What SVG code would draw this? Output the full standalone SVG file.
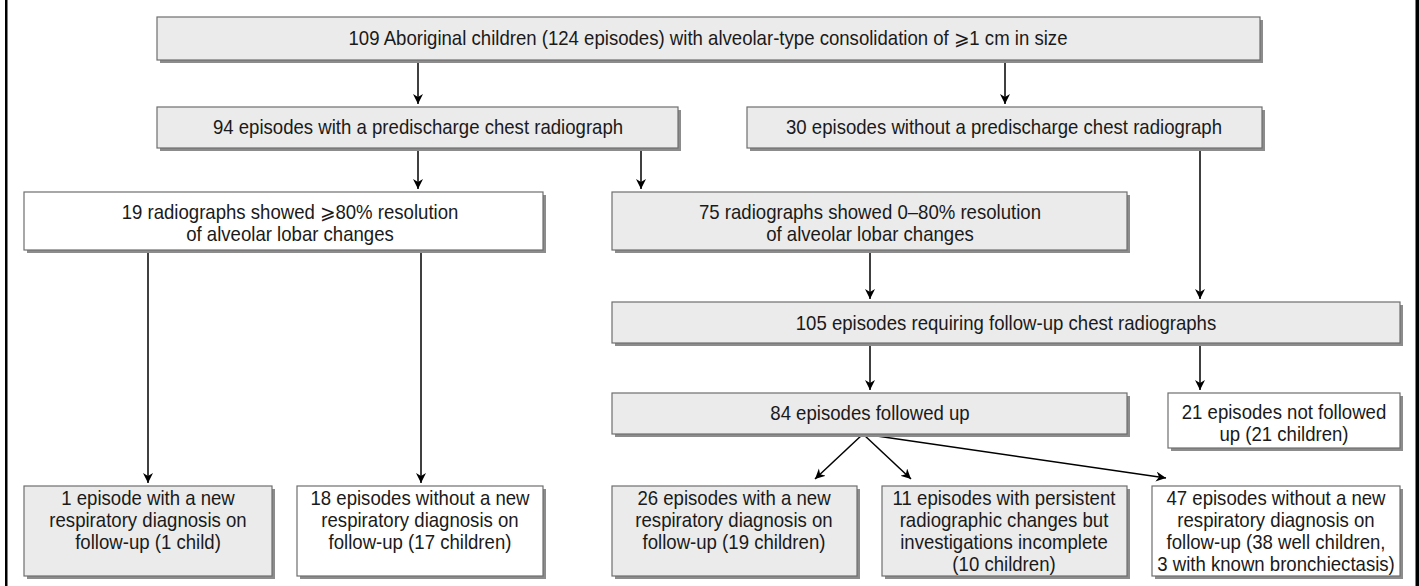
<svg xmlns="http://www.w3.org/2000/svg" width="1419" height="586" viewBox="0 0 1419 586">
<style>
.sh{fill:#8c8c8c}
.g{fill:#ebebeb;stroke:#6e6e6e;stroke-width:1.2}
.w{fill:#ffffff;stroke:#6e6e6e;stroke-width:1.2}
text{font-family:"Liberation Sans",Arial,sans-serif;font-size:20px;fill:#1a1a1a;text-anchor:middle}
.c{stroke:#000;stroke-width:1.5;fill:none}
</style>
<defs>
<marker id="ah" markerWidth="12" markerHeight="12" refX="10" refY="5" orient="auto" markerUnits="userSpaceOnUse">
<path d="M0,0 L10,5 L0,10 L3,5 Z" fill="#000"/>
</marker>
</defs>
<rect x="5" y="0" width="2.5" height="586" fill="#000"/>
<rect x="1415.5" y="0" width="3.5" height="586" fill="#000"/>
<g id="connectors">
<path class="c" d="M418,60 V104" marker-end="url(#ah)"/>
<path class="c" d="M1005,60 V104" marker-end="url(#ah)"/>
<path class="c" d="M418,148 V189" marker-end="url(#ah)"/>
<path class="c" d="M641,148 V189" marker-end="url(#ah)"/>
<path class="c" d="M1200,148 V299" marker-end="url(#ah)"/>
<path class="c" d="M148,250 V483" marker-end="url(#ah)"/>
<path class="c" d="M421,250 V483" marker-end="url(#ah)"/>
<path class="c" d="M870,250 V299" marker-end="url(#ah)"/>
<path class="c" d="M870,343 V390" marker-end="url(#ah)"/>
<path class="c" d="M1200,343 V390" marker-end="url(#ah)"/>
<path class="c" d="M863,434 L815,479" marker-end="url(#ah)"/>
<path class="c" d="M863,434 L911,479" marker-end="url(#ah)"/>
<path class="c" d="M863,434 L1166,478" marker-end="url(#ah)"/>
</g>
<g id="n1"><rect class="sh" x="160" y="20" width="1103" height="43"/><rect class="g" x="157" y="17" width="1103" height="43"/><text transform="translate(708,45) scale(0.93,1)">109 Aboriginal children (124 episodes) with alveolar-type consolidation of ⩾1 cm in size</text></g>
<g id="n2"><rect class="sh" x="160" y="110" width="521" height="41"/><rect class="g" x="157" y="107" width="521" height="41"/><text transform="translate(418,134) scale(0.93,1)">94 episodes with a predischarge chest radiograph</text></g>
<g id="n3"><rect class="sh" x="750" y="110" width="515" height="41"/><rect class="g" x="747" y="107" width="515" height="41"/><text transform="translate(1004,134) scale(0.93,1)">30 episodes without a predischarge chest radiograph</text></g>
<g id="n4"><rect class="sh" x="27" y="195" width="519" height="58"/><rect class="w" x="24" y="192" width="519" height="58"/><text transform="translate(290,219) scale(0.93,1)">19 radiographs showed ⩾80% resolution</text><text transform="translate(290,241) scale(0.93,1)">of alveolar lobar changes</text></g>
<g id="n5"><rect class="sh" x="615" y="195" width="515" height="58"/><rect class="g" x="612" y="192" width="515" height="58"/><text transform="translate(870,219) scale(0.93,1)">75 radiographs showed 0–80% resolution</text><text transform="translate(870,241) scale(0.93,1)">of alveolar lobar changes</text></g>
<g id="n6"><rect class="sh" x="615" y="305" width="788" height="41"/><rect class="g" x="612" y="302" width="788" height="41"/><text transform="translate(1006,330) scale(0.93,1)">105 episodes requiring follow-up chest radiographs</text></g>
<g id="n7"><rect class="sh" x="615" y="396" width="515" height="41"/><rect class="g" x="612" y="393" width="515" height="41"/><text transform="translate(870,420) scale(0.93,1)">84 episodes followed up</text></g>
<g id="n8"><rect class="sh" x="1171" y="396" width="232" height="55"/><rect class="w" x="1168" y="393" width="232" height="55"/><text transform="translate(1284,419) scale(0.93,1)">21 episodes not followed</text><text transform="translate(1284,441) scale(0.93,1)">up (21 children)</text></g>
<g id="n9"><rect class="sh" x="27" y="489" width="248" height="90"/><rect class="g" x="24" y="486" width="248" height="90"/><text transform="translate(148,505) scale(0.93,1)">1 episode with a new</text><text transform="translate(148,527) scale(0.93,1)">respiratory diagnosis on</text><text transform="translate(148,549) scale(0.93,1)">follow-up (1 child)</text></g>
<g id="n10"><rect class="sh" x="300" y="489" width="246" height="90"/><rect class="w" x="297" y="486" width="246" height="90"/><text transform="translate(420,505) scale(0.93,1)">18 episodes without a new</text><text transform="translate(420,527) scale(0.93,1)">respiratory diagnosis on</text><text transform="translate(420,549) scale(0.93,1)">follow-up (17 children)</text></g>
<g id="n11"><rect class="sh" x="615" y="489" width="245" height="90"/><rect class="g" x="612" y="486" width="245" height="90"/><text transform="translate(734,505) scale(0.93,1)">26 episodes with a new</text><text transform="translate(734,527) scale(0.93,1)">respiratory diagnosis on</text><text transform="translate(734,549) scale(0.93,1)">follow-up (19 children)</text></g>
<g id="n12"><rect class="sh" x="885" y="489" width="245" height="90"/><rect class="g" x="882" y="486" width="245" height="90"/><text transform="translate(1004,505) scale(0.93,1)">11 episodes with persistent</text><text transform="translate(1004,527) scale(0.93,1)">radiographic changes but</text><text transform="translate(1004,549) scale(0.93,1)">investigations incomplete</text><text transform="translate(1004,571) scale(0.93,1)">(10 children)</text></g>
<g id="n13"><rect class="sh" x="1155" y="489" width="248" height="90"/><rect class="w" x="1152" y="486" width="248" height="90"/><text transform="translate(1276,505) scale(0.93,1)">47 episodes without a new</text><text transform="translate(1276,527) scale(0.93,1)">respiratory diagnosis on</text><text transform="translate(1276,549) scale(0.93,1)">follow-up (38 well children,</text><text transform="translate(1276,571) scale(0.93,1)">3 with known bronchiectasis)</text></g>
</svg>
